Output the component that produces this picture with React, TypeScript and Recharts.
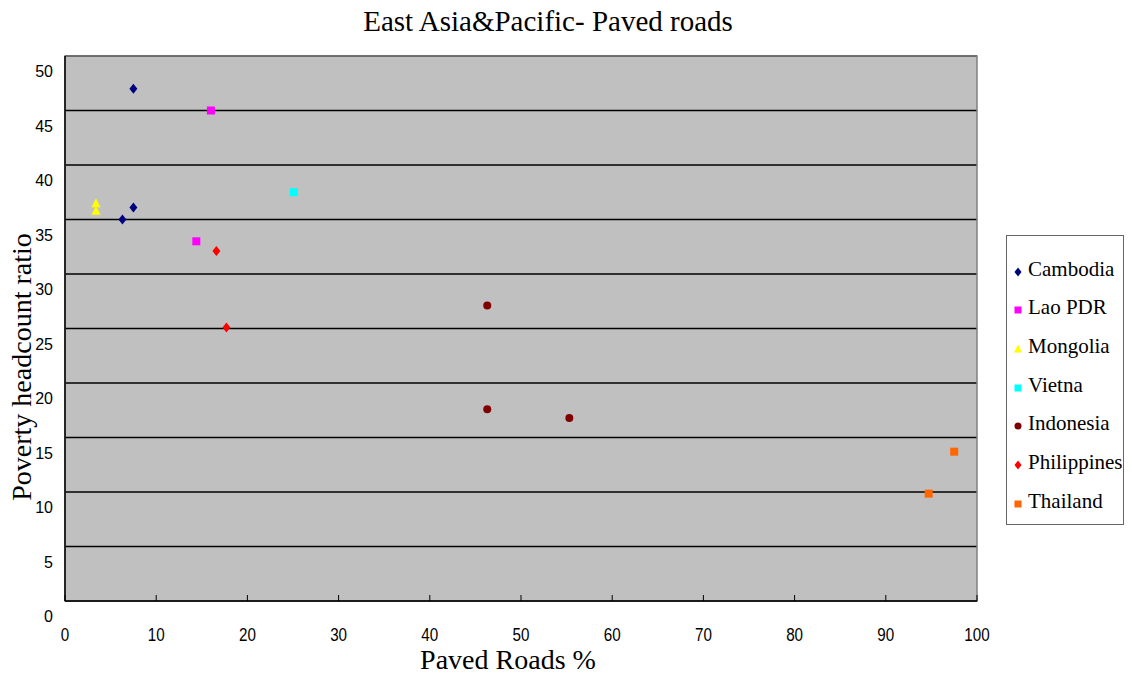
import { ScatterChart, Scatter, XAxis, YAxis, CartesianGrid, ReferenceArea } from 'recharts';

// [paved roads %, poverty headcount ratio]
const cambodia = [
  { x: 7.5, y: 47.0 },
  { x: 7.5, y: 36.1 },
  { x: 6.3, y: 35.0 },
];
const laoPdr = [
  { x: 16.0, y: 45.0 },
  { x: 14.4, y: 33.0 },
];
const mongolia = [
  { x: 3.4, y: 36.5 },
  { x: 3.4, y: 35.8 },
];
const vietnam = [{ x: 25.1, y: 37.5 }];
const indonesia = [
  { x: 46.3, y: 27.1 },
  { x: 46.3, y: 17.6 },
  { x: 55.3, y: 16.8 },
];
const philippines = [
  { x: 16.6, y: 32.1 },
  { x: 17.7, y: 25.1 },
];
const thailand = [
  { x: 97.5, y: 13.7 },
  { x: 94.7, y: 9.85 },
];

const xTicks = [0, 10, 20, 30, 40, 50, 60, 70, 80, 90, 100];
const yTicks = [0, 5, 10, 15, 20, 25, 30, 35, 40, 45, 50];

const series = [
  { name: 'Cambodia', data: cambodia, color: '#000080', shape: 'diamond' },
  { name: 'Lao PDR', data: laoPdr, color: '#FF00FF', shape: 'square' },
  { name: 'Mongolia', data: mongolia, color: '#FFFF00', shape: 'triangle' },
  { name: 'Vietna', data: vietnam, color: '#00FFFF', shape: 'square' },
  { name: 'Indonesia', data: indonesia, color: '#800000', shape: 'circle' },
  { name: 'Philippines', data: philippines, color: '#FF0000', shape: 'diamond' },
  { name: 'Thailand', data: thailand, color: '#FF6600', shape: 'square' },
];

const serif = "'Liberation Serif', 'Times New Roman', serif";

const Marker = ({ cx, cy, shape, color, size = 8 }: any) => {
  const h = size / 2;
  if (shape === 'diamond') {
    return <polygon points={`${cx},${cy - h - 1} ${cx + h},${cy} ${cx},${cy + h + 1} ${cx - h},${cy}`} fill={color} />;
  }
  if (shape === 'square') {
    return <rect x={cx - h} y={cy - h} width={size} height={size} fill={color} />;
  }
  if (shape === 'triangle') {
    return <polygon points={`${cx},${cy - h - 1} ${cx + h + 0.5},${cy + h} ${cx - h - 0.5},${cy + h}`} fill={color} />;
  }
  return <circle cx={cx} cy={cy} r={h} fill={color} />;
};

// condensed labels, tick marks pointing up into the plot
const XTick = ({ x, y, payload }: any) => (
  <g>
    <line x1={x} y1={y} x2={x} y2={y - 6} stroke="#000" strokeWidth={1} />
    <text
      transform={`translate(${x}, ${y + 40}) scale(0.8, 1)`}
      textAnchor="middle"
      fontSize={19}
      fontFamily="'Liberation Sans', Arial, sans-serif"
      fill="#000"
    >
      {payload.value}
    </text>
  </g>
);

const YTick = ({ x, y, payload }: any) => (
  <text x={x - 12} y={y + 21} textAnchor="end" fontSize={16} fontFamily="'Liberation Sans', Arial, sans-serif" fill="#000">
    {payload.value}
  </text>
);

const LegendBox = () => (
  <div
    style={{
      position: 'absolute',
      left: 1006,
      top: 235,
      width: 118,
      height: 290,
      border: '1.5px solid #666',
      background: '#fff',
      boxSizing: 'border-box',
      fontFamily: serif,
      fontSize: 21,
    }}
  >
    {series.map((s, i) => (
      <div
        key={s.name}
        style={{ position: 'absolute', left: 5, top: 20 + i * 38.7, height: 26, display: 'flex', alignItems: 'center', whiteSpace: 'nowrap' }}
      >
        <svg width={12} height={14} style={{ marginTop: 5 }}>
          <Marker cx={6} cy={7} shape={s.shape} color={s.color} size={7} />
        </svg>
        <span style={{ marginLeft: 4 }}>{s.name}</span>
      </div>
    ))}
  </div>
);

export default function App() {
  return (
    <div style={{ position: 'absolute', left: 0, top: 0, width: 1132, height: 677, background: '#fff' }}>
      <ScatterChart width={1132} height={677} margin={{ top: 56, right: 155, left: 5, bottom: 16 }}>
        <CartesianGrid vertical={false} stroke="#000" strokeWidth={1.5} fill="#C0C0C0" fillOpacity={1} />
        <XAxis
          type="number"
          dataKey="x"
          domain={[0, 100]}
          ticks={xTicks}
          height={60}
          tickSize={0}
          tickMargin={0}
          tickLine={false}
          tick={<XTick />}
          axisLine={{ stroke: '#000', strokeWidth: 1.5 }}
          interval={0}
        />
        <YAxis
          type="number"
          dataKey="y"
          domain={[0, 50]}
          ticks={yTicks}
          width={60}
          tickSize={0}
          tickMargin={0}
          tickLine={false}
          tick={<YTick />}
          axisLine={{ stroke: '#000', strokeWidth: 1.5 }}
          interval={0}
        />
        <ReferenceArea x1={0} x2={100} y1={0} y2={50} fill="none" stroke="#808080" strokeWidth={1.5} ifOverflow="visible" />
        {series.map((s) => (
          <Scatter
            key={s.name}
            name={s.name}
            data={s.data}
            isAnimationActive={false}
            shape={(p: any) => <Marker cx={p.cx} cy={p.cy} shape={s.shape} color={s.color} size={8} />}
          />
        ))}
      </ScatterChart>
      <LegendBox />
      <div style={{ position: 'absolute', left: 0, width: 1096, top: 5, textAlign: 'center', fontFamily: serif, fontSize: 29 }}>
        East Asia&amp;Pacific- Paved roads
      </div>
      <div style={{ position: 'absolute', left: 0, width: 1016, top: 645, textAlign: 'center', fontFamily: serif, fontSize: 28, lineHeight: '30px' }}>
        Paved Roads %
      </div>
      <div
        style={{
          position: 'absolute',
          left: 22,
          top: 367,
          transform: 'translate(-50%, -50%) rotate(-90deg)',
          whiteSpace: 'nowrap',
          fontFamily: serif,
          fontSize: 28,
        }}
      >
        Poverty headcount ratio
      </div>
    </div>
  );
}
